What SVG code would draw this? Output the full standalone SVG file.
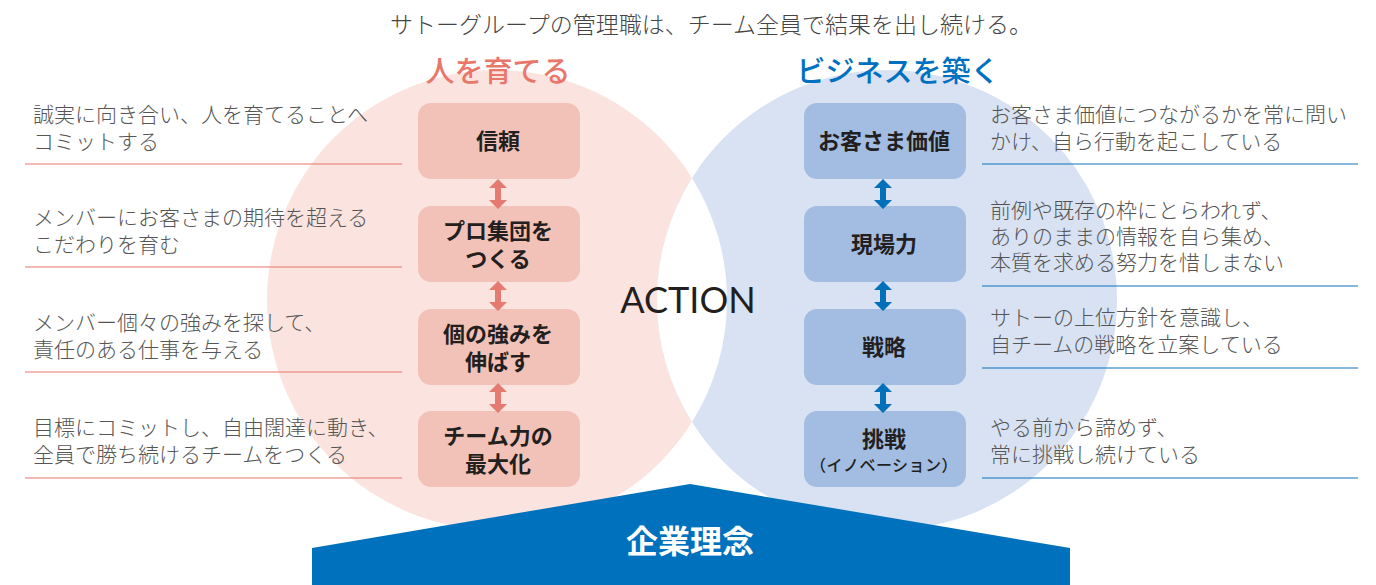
<svg xmlns="http://www.w3.org/2000/svg" width="1376" height="585" viewBox="0 0 1376 585">
<style>
text{font-family:"Noto Sans CJK JP","Noto Sans",sans-serif;}
.desc{font-size:21px;fill:#555;font-weight:300;}
.bl{font-size:22px;font-weight:700;fill:#231f20;text-anchor:middle;}
.lboxr{fill:#f2c2b8;}
.rboxr{fill:#a2bce2;}
.lline{stroke:#e8776a;stroke-width:1.2;}
.rline{stroke:#0a72ba;stroke-width:1.2;}
.larr{fill:#e57b70;}
.rarr{fill:#0070bb;}
</style>
<defs>
<path id="dbl" d="M0,-15 L9,-6 L3,-6 L3,6 L9,6 L0,15 L-9,6 L-3,6 L-3,-6 L-9,-6 Z"/>
</defs>
<rect width="1376" height="585" fill="#fff"/>
<g id="background">
<circle cx="497" cy="300" r="230" fill="#fbe4df"/>
<circle cx="887" cy="300" r="230" fill="#d8e2f3"/>
<path d="M692,178 A230,230 0 0,1 692,422 A230,230 0 0,1 692,178 Z" fill="#fff"/>
</g>
<text x="711" y="33" font-size="23" fill="#444" font-weight="300" text-anchor="middle">サトーグループの管理職は、チーム全員で結果を出し続ける。</text>
<text x="498" y="82" font-size="29" fill="#e8776a" font-weight="500" text-anchor="middle">人を育てる</text>
<text x="898" y="82" font-size="29" fill="#0070c0" font-weight="500" text-anchor="middle">ビジネスを築く</text>
<text x="688" y="313" font-size="36" fill="#231f20" style="font-family:Lato,'Noto Sans',sans-serif" text-anchor="middle">ACTION</text>

<g id="left-desc">
<text class="desc" x="33" y="122">誠実に向き合い、人を育てることへ</text>
<text class="desc" x="33" y="149">コミットする</text>
<text class="desc" x="33" y="225">メンバーにお客さまの期待を超える</text>
<text class="desc" x="33" y="252">こだわりを育む</text>
<text class="desc" x="33" y="330">メンバー個々の強みを探して、</text>
<text class="desc" x="33" y="357">責任のある仕事を与える</text>
<text class="desc" x="33" y="435">目標にコミットし、自由闊達に動き、</text>
<text class="desc" x="33" y="462">全員で勝ち続けるチームをつくる</text>
</g>
<g id="right-desc">
<text class="desc" x="990" y="122">お客さま価値につながるかを常に問い</text>
<text class="desc" x="990" y="149">かけ、自ら行動を起こしている</text>
<text class="desc" x="990" y="218">前例や既存の枠にとらわれず、</text>
<text class="desc" x="990" y="244">ありのままの情報を自ら集め、</text>
<text class="desc" x="990" y="270">本質を求める努力を惜しまない</text>
<text class="desc" x="990" y="325">サトーの上位方針を意識し、</text>
<text class="desc" x="990" y="352">自チームの戦略を立案している</text>
<text class="desc" x="990" y="435">やる前から諦めず、</text>
<text class="desc" x="990" y="462">常に挑戦し続けている</text>
</g>
<g id="lines">
<line class="lline" x1="25" y1="164" x2="402" y2="164"/>
<line class="lline" x1="25" y1="267" x2="402" y2="267"/>
<line class="lline" x1="25" y1="372" x2="402" y2="372"/>
<line class="lline" x1="25" y1="478" x2="402" y2="478"/>
<line class="rline" x1="982" y1="164" x2="1358" y2="164"/>
<line class="rline" x1="982" y1="286" x2="1358" y2="286"/>
<line class="rline" x1="982" y1="368" x2="1358" y2="368"/>
<line class="rline" x1="982" y1="478" x2="1358" y2="478"/>
</g>

<g id="node-shinrai"><rect class="lboxr" x="418" y="103" width="162" height="76" rx="13"/><text class="bl" x="498" y="149">信頼</text></g>
<g id="node-pro"><rect class="lboxr" x="418" y="206" width="162" height="76" rx="13"/><text class="bl" x="498" y="239">プロ集団を</text><text class="bl" x="498" y="267">つくる</text></g>
<g id="node-ko"><rect class="lboxr" x="418" y="309" width="162" height="76" rx="13"/><text class="bl" x="498" y="342">個の強みを</text><text class="bl" x="498" y="370">伸ばす</text></g>
<g id="node-team"><rect class="lboxr" x="418" y="411" width="162" height="76" rx="13"/><text class="bl" x="498" y="444">チーム力の</text><text class="bl" x="498" y="472">最大化</text></g>

<g id="node-kachi"><rect class="rboxr" x="804" y="103" width="162" height="76" rx="13"/><text class="bl" x="884" y="149">お客さま価値</text></g>
<g id="node-genba"><rect class="rboxr" x="804" y="206" width="162" height="76" rx="13"/><text class="bl" x="884" y="252">現場力</text></g>
<g id="node-senryaku"><rect class="rboxr" x="804" y="309" width="162" height="76" rx="13"/><text class="bl" x="884" y="355">戦略</text></g>
<g id="node-chosen"><rect class="rboxr" x="804" y="411" width="162" height="76" rx="13"/><text class="bl" x="884" y="447">挑戦</text><text x="884" y="471" font-size="16" font-weight="500" fill="#231f20" letter-spacing="0.5" text-anchor="middle">（イノベーション）</text></g>

<g id="connectors">
<use href="#dbl" class="larr" x="498" y="194"/>
<use href="#dbl" class="larr" x="498" y="296"/>
<use href="#dbl" class="larr" x="498" y="398"/>
<use href="#dbl" class="rarr" x="883" y="194"/>
<use href="#dbl" class="rarr" x="883" y="296"/>
<use href="#dbl" class="rarr" x="883" y="398"/>
</g>

<g id="node-rinen">
<path d="M690,484 L1070,548 L1070,585 L312,585 L312,548 Z" fill="#0071bc"/>
<text x="690" y="553" font-size="32" font-weight="700" fill="#fff" text-anchor="middle">企業理念</text>
</g>
</svg>
